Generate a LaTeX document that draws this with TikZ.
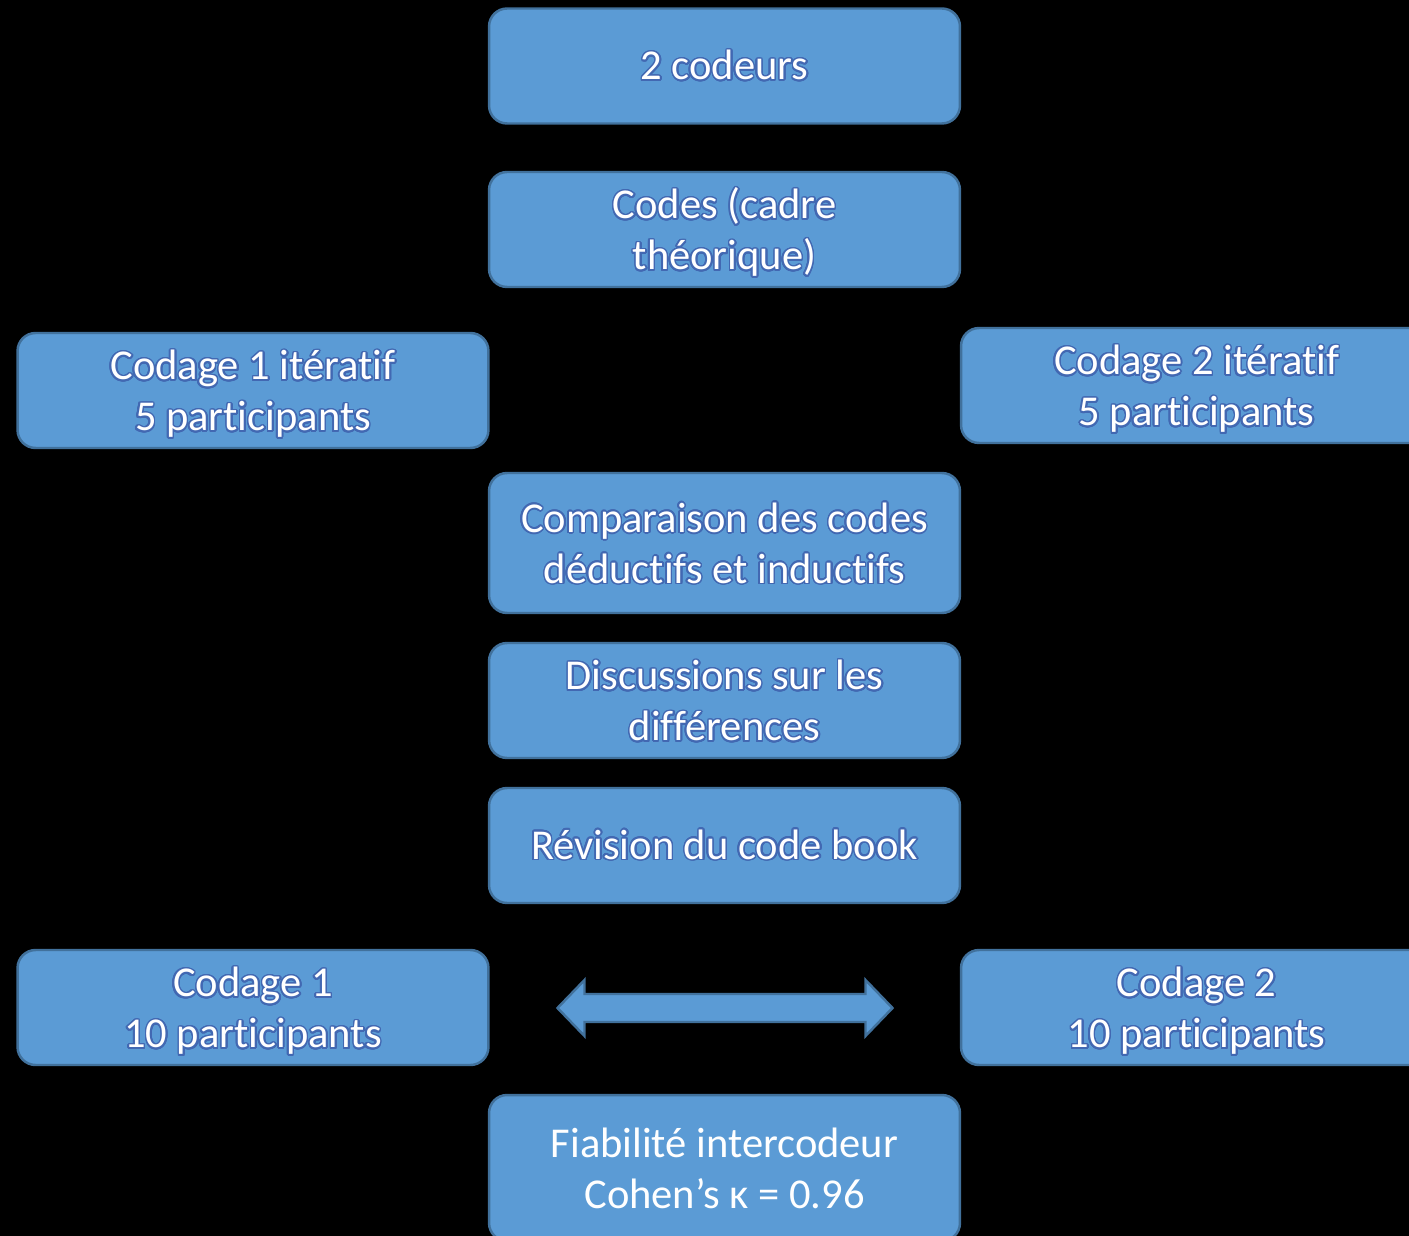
\documentclass[tikz,border=0pt]{standalone}
\usepackage{fontspec}
\setmainfont[Ligatures={NoCommon,NoContextual,NoRequired}, Contextuals=NoAlternate]{Carlito}
\usepackage[copies]{contour}
\usetikzlibrary{positioning}

\definecolor{boxblue}{RGB}{91,155,213}
\definecolor{boxedge}{RGB}{65,113,156}
\definecolor{glowblue}{RGB}{66,104,178}
\contourlength{0.9pt}
\contournumber{24}
\newcommand{\glow}[1]{\contour{glowblue}{#1}}
\newcommand{\linetop}{\rule{0pt}{23pt}}
\newcommand{\linebot}{\rule[-6pt]{0pt}{6pt}}

\tikzset{
	stepbox/.style={draw=boxedge, fill=boxblue, line width=1.4pt, rounded corners=0.36cm,
		minimum width=9.42cm, minimum height=2.3cm, inner sep=0pt, align=center,
		text=white, font=\fontsize{24.2}{29}\selectfont},
	tallbox/.style={stepbox, minimum height=2.8cm},
	blockarrow/.style={draw=boxedge, fill=boxblue, line width=1.4pt, line join=miter}
}

\begin{document}
\begin{tikzpicture}[x=0.02cm, y=-0.02cm]
	\fill[black] (0,0) rectangle (1409,1236);
	\clip (0,0) rectangle (1409,1236);

	\node[stepbox] (coders) at (724.5,66) {\glow{2 codeurs}};
	\node[stepbox] (codes) at (724.5,229.5) {\linetop\glow{Codes (cadre}\\\glow{théorique)}\linebot};
	\node[stepbox] (iter1) at (253,390.5) {\linetop\glow{Codage 1 itératif}\\\glow{5 participants}\linebot};
	\node[stepbox] (iter2) at (1196.5,385.5) {\linetop\glow{Codage 2 itératif}\\\glow{5 participants}\linebot};
	\node[tallbox] (compare) at (724.5,543) {\linetop\glow{Comparaison des codes}\\\glow{déductifs et inductifs}\linebot};
	\node[stepbox] (discuss) at (724.5,700.5) {\linetop\glow{Discussions sur les}\\\glow{différences}\linebot};
	\node[stepbox] (revise) at (724.5,845.5) {\glow{Révision du code book}};
	\node[stepbox] (code1) at (253,1007.5) {\linetop\glow{Codage 1}\\\glow{10 participants}\linebot};
	\node[stepbox] (code2) at (1196.5,1007.5) {\linetop\glow{Codage 2}\\\glow{10 participants}\linebot};
	\node[tallbox, minimum height=2.92cm] (kappa) at (724.5,1168) {\linetop Fiabilité intercodeur\\Cohen’s κ = 0.96\linebot};

	% double block arrow between the two codings
	\coordinate (mid) at (724.5,1008);
	\draw[blockarrow] (mid) ++(-167,0) -- ++(27,-28) -- ++(0,14) -- ++(281,0) -- ++(0,-14)
		-- ++(27,28) -- ++(-27,28) -- ++(0,-14) -- ++(-281,0) -- ++(0,14) -- cycle;
\end{tikzpicture}
\end{document}
